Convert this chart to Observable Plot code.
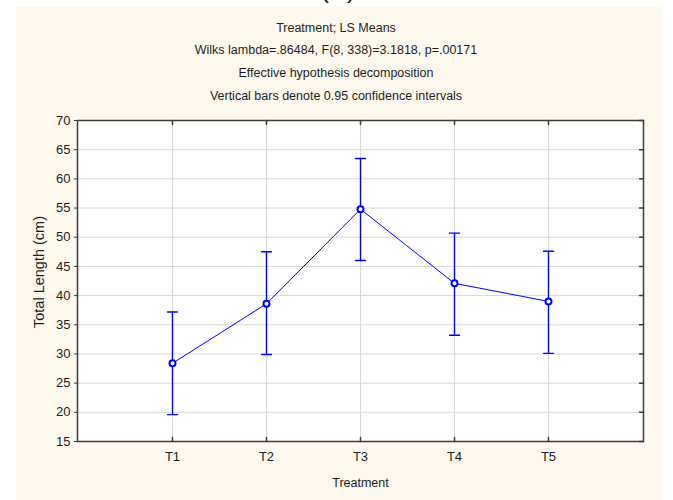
<!DOCTYPE html>
<html><head><meta charset="utf-8">
<script src="https://cdn.jsdelivr.net/npm/d3@7"></script>
<script src="https://cdn.jsdelivr.net/npm/@observablehq/plot@0.6"></script>
<style>
html,body{margin:0;padding:0;background:#fff;overflow:hidden;}
#wrap{position:relative;width:673px;height:500px;font-family:"Liberation Sans",Arial,sans-serif;color:#1e1e1e;}
#panel{position:absolute;left:16px;top:7px;width:646px;height:493px;background:#fdf9ef;}
#tag{position:absolute;left:0;width:676px;text-align:center;top:-25px;font-size:27px;line-height:27px;}
#titles{position:absolute;left:0;top:16.6px;width:672px;text-align:center;font-size:12.5px;line-height:22.7px;}
#chart{position:absolute;left:0;top:0;}
#ylabel{position:absolute;left:-61px;top:263px;width:200px;height:18px;line-height:18px;text-align:center;font-size:14.5px;transform:rotate(-90deg);transform-origin:100px 9px;}
</style></head>
<body>
<div id="wrap">
  <div id="panel"></div>
  <div id="tag">(A)</div>
  <div id="titles"></div>
  <div id="chart"></div>
  <div id="ylabel"></div>
</div>
<script>
const treatments = ["T1", "T2", "T3", "T4", "T5"];
const means = [28.4, 38.6, 54.8, 42.1, 39.0];
const upper = [37.2, 47.5, 63.5, 50.7, 47.6];
const lower = [19.6, 29.9, 46.0, 33.2, 30.1];
const yTicks = [15, 20, 25, 30, 35, 40, 45, 50, 55, 60, 65, 70];
const titleLines = [
  "Treatment; LS Means",
  "Wilks lambda=.86484, F(8, 338)=3.1818, p=.00171",
  "Effective hypothesis decomposition",
  "Vertical bars denote 0.95 confidence intervals"
];
const xLabel = "Treatment";
const yLabel = "Total Length (cm)";

const titles = document.getElementById("titles");
titleLines.forEach(t => { const d = document.createElement("div"); d.textContent = t; titles.appendChild(d); });
document.getElementById("ylabel").textContent = yLabel;

const data = treatments.map((t, i) => ({t, mean: means[i], lo: lower[i], hi: upper[i]}));
const tickShape = {draw(ctx, l) { ctx.moveTo(0, 0); ctx.lineTo(0, -l); }};
const capShape = {draw(ctx, l) { ctx.moveTo(-l / 2, 0); ctx.lineTo(l / 2, 0); }};
const axisColor = "#3c3c3c";
const gridColor = "#d8d8d8";
const blue = "#0000ff";

const chart = Plot.plot({
  width: 673, height: 500,
  marginLeft: 77, marginRight: 30, marginTop: 120, marginBottom: 59,
  style: {background: "transparent", fontFamily: "'Liberation Sans', Arial, sans-serif", fontSize: "13px", color: "#1e1e1e"},
  x: {type: "point", domain: treatments, padding: 1},
  y: {domain: [15, 70]},
  marks: [
    Plot.frame({fill: "white"}),
    Plot.ruleX(treatments, {x: d => d, stroke: gridColor}),
    Plot.ruleY(yTicks, {y: d => d, stroke: gridColor}),
    Plot.frame({stroke: axisColor, strokeWidth: 1.5}),
    Plot.vector(treatments, {x: d => d, frameAnchor: "bottom", length: 4, rotate: 0, anchor: "start", shape: tickShape, stroke: axisColor}),
    Plot.vector(treatments, {x: d => d, frameAnchor: "top", length: 4, rotate: 180, anchor: "start", shape: tickShape, stroke: axisColor}),
    Plot.vector(yTicks, {y: d => d, frameAnchor: "right", length: 4, rotate: -90, anchor: "start", shape: tickShape, stroke: axisColor}),
    Plot.axisY({ticks: yTicks, tickSize: 3, tickPadding: 4, label: null, stroke: axisColor, fontSize: 13}),
    Plot.axisX({tickSize: 0, tickPadding: 10, label: null, fontSize: 13}),
    Plot.ruleX(data, {x: "t", y1: "lo", y2: "hi", stroke: blue, strokeWidth: 1.4}),
    Plot.vector(data, {x: "t", y: "hi", length: 10, anchor: "start", shape: capShape, stroke: blue, strokeWidth: 1.4}),
    Plot.vector(data, {x: "t", y: "lo", length: 10, anchor: "start", shape: capShape, stroke: blue, strokeWidth: 1.4}),
    Plot.line(data, {x: "t", y: "mean", stroke: blue, strokeWidth: 1}),
    Plot.dot(data, {x: "t", y: "mean", r: 3, stroke: blue, strokeWidth: 2, fill: "white"}),
    Plot.text([xLabel], {frameAnchor: "bottom", dy: 45, text: d => d, fontSize: 12.5})
  ]
});
document.getElementById("chart").appendChild(chart);
</script>
</body></html>
